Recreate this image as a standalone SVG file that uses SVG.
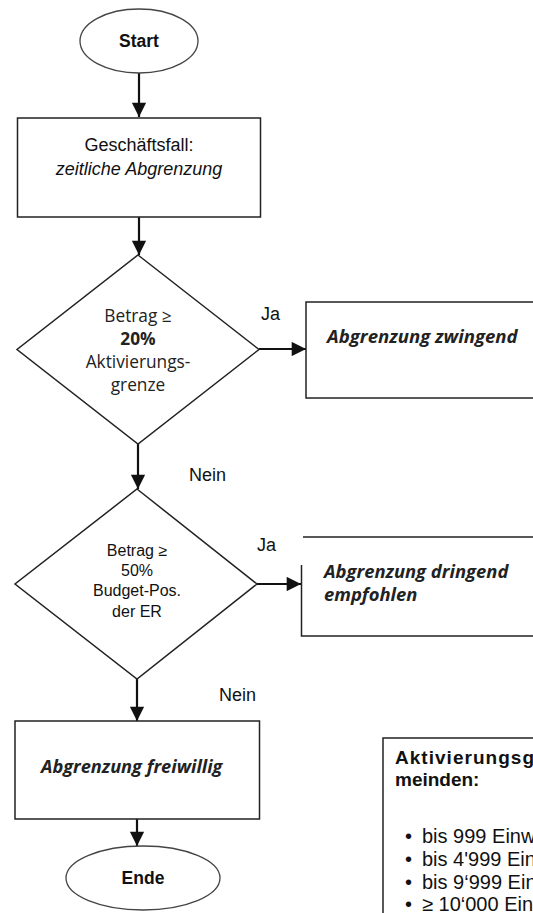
<svg xmlns="http://www.w3.org/2000/svg" width="533" height="913" viewBox="0 0 533 913">
<defs>
<style>
.box{fill:#fff;stroke:#222;stroke-width:1.5}
.term{fill:#fff;stroke:#444;stroke-width:1.3}
.con{fill:none;stroke:#111;stroke-width:2.2}
.sans{font-family:"Liberation Sans",Arial,sans-serif;fill:#111}
.hum{font-family:"Open Sans","Noto Sans",sans-serif;fill:#222}
.mid{text-anchor:middle}
.bi{font-weight:bold;font-style:italic}
</style>
<marker id="ah" viewBox="0 0 10 10" refX="10" refY="5" markerWidth="7" markerHeight="6.5" orient="auto" markerUnits="strokeWidth">
<path d="M0,0 L10,5 L0,10 Z" fill="#111"/>
</marker>
</defs>
<rect width="533" height="913" fill="#fff"/>

<g id="connectors">
<line class="con" x1="139" y1="73" x2="139" y2="117" marker-end="url(#ah)"/>
<line class="con" x1="139" y1="217" x2="139" y2="255" marker-end="url(#ah)"/>
<line class="con" x1="259" y1="349" x2="306" y2="349" marker-end="url(#ah)"/>
<line class="con" x1="138" y1="444" x2="138" y2="489" marker-end="url(#ah)"/>
<line class="con" x1="257" y1="584" x2="301" y2="584" marker-end="url(#ah)"/>
<line class="con" x1="137" y1="679" x2="137" y2="721" marker-end="url(#ah)"/>
<line class="con" x1="137" y1="819" x2="137" y2="846" marker-end="url(#ah)"/>
</g>

<g id="start">
<ellipse class="term" cx="139" cy="41" rx="59" ry="32"/>
<text class="sans mid" x="139" y="47" font-size="17.5" font-weight="bold">Start</text>
</g>

<g id="geschaeftsfall">
<rect class="box" x="17.5" y="118" width="243" height="99"/>
<text class="sans mid" x="139" y="151" font-size="18">Geschäftsfall:</text>
<text class="sans mid" x="139" y="175" font-size="18" font-style="italic">zeitliche Abgrenzung</text>
</g>

<g id="decision1">
<polygon class="box" points="138,255 259,349.5 138,444 17,349.5"/>
<text class="hum mid" x="138" y="322" font-size="17.3">Betrag ≥</text>
<text class="hum mid" x="138" y="345" font-size="17.3" font-weight="bold">20%</text>
<text class="hum mid" x="138" y="368" font-size="17.3">Aktivierungs-</text>
<text class="hum mid" x="138" y="391" font-size="17.3">grenze</text>
</g>

<g id="labels">
<text class="sans" x="261" y="320" font-size="18">Ja</text>
<text class="sans" x="189" y="481" font-size="18">Nein</text>
<text class="sans" x="257" y="551" font-size="18">Ja</text>
<text class="sans" x="219" y="701" font-size="18">Nein</text>
</g>

<g id="zwingend">
<rect class="box" x="306" y="302" width="240" height="96"/>
<text class="hum bi" x="327" y="343" font-size="18.6">Abgrenzung zwingend</text>
</g>

<g id="decision2">
<polygon class="box" points="137,489 257,584 137,679 15,584"/>
<text class="sans mid" x="137" y="556" font-size="16">Betrag ≥</text>
<text class="sans mid" x="137" y="576" font-size="16">50%</text>
<text class="sans mid" x="137" y="596" font-size="16">Budget-Pos.</text>
<text class="sans mid" x="137" y="617" font-size="16">der ER</text>
</g>

<g id="dringend">
<path class="box" fill="none" d="M303,537 H540 M301.5,565 V636 H540"/>
<text class="hum bi" x="324" y="578" font-size="18.4">Abgrenzung dringend</text>
<text class="hum bi" x="324" y="601" font-size="18.4">empfohlen</text>
</g>

<g id="freiwillig">
<rect class="box" x="15" y="721" width="244.5" height="98"/>
<text class="hum bi" x="41" y="773" font-size="18.2">Abgrenzung freiwillig</text>
</g>

<g id="ende">
<ellipse class="term" cx="143" cy="878" rx="77" ry="32"/>
<text class="sans mid" x="143" y="884" font-size="17.5" font-weight="bold">Ende</text>
</g>

<g id="aktivierungsgrenze">
<rect class="box" x="383" y="738" width="200" height="200"/>
<text class="sans" x="395" y="764" font-size="19" font-weight="bold" textLength="139" lengthAdjust="spacing">Aktivierungsg</text>
<text class="sans" x="395" y="786" font-size="19" font-weight="bold">meinden:</text>
<text class="sans" x="405" y="843" font-size="20">•</text>
<text class="sans" x="422" y="843" font-size="20">bis 999 Einw</text>
<text class="sans" x="405" y="866" font-size="20">•</text>
<text class="sans" x="422" y="866" font-size="20">bis 4'999 Ein</text>
<text class="sans" x="405" y="889" font-size="20">•</text>
<text class="sans" x="422" y="889" font-size="20">bis 9‘999 Ein</text>
<text class="sans" x="405" y="911" font-size="20">•</text>
<text class="sans" x="422" y="911" font-size="20">≥ 10‘000 Ein</text>
</g>
</svg>
